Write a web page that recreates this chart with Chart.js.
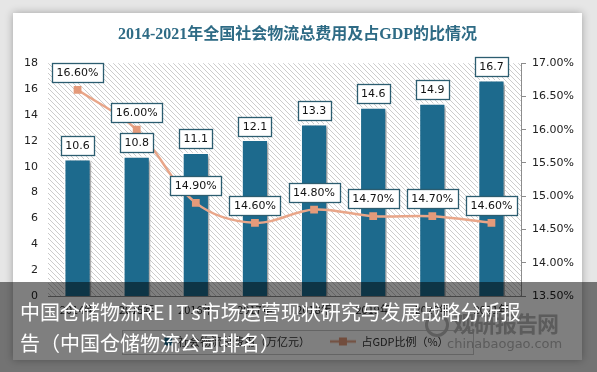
<!DOCTYPE html>
<html>
<head>
<meta charset="utf-8">
<script src="https://cdn.jsdelivr.net/npm/chart.js@4/dist/chart.umd.min.js"></script>
<style>
html,body{margin:0;padding:0;}
body{width:597px;height:372px;background:#e6e6e6;position:relative;overflow:hidden;font-family:"Noto Sans CJK SC",sans-serif;}
#card{position:absolute;left:13px;top:13px;width:569px;height:347px;background:#fff;box-shadow:0 0 8px rgba(0,0,0,.3);}
#wrap{position:absolute;left:0;top:0;width:597px;height:372px;}
#wm1{position:absolute;left:453px;top:306px;font-size:22px;font-weight:bold;color:#b8b8b8;letter-spacing:-1px;}
#wm2{position:absolute;left:447px;top:336px;font:13px "DejaVu Sans";color:#b8b8b8;}
#logo{position:absolute;left:425px;top:313px;width:18px;height:18px;border:3px solid #bcbcbc;border-radius:50%;}
#overlay{position:absolute;left:0;top:282px;width:597px;height:90px;background:rgba(0,0,0,.5);}
#overlay div{position:absolute;left:20px;color:#fff;font-size:20px;line-height:22px;white-space:nowrap;}
</style>
</head>
<body>
<div id="card"></div>
<div id="wrap"><canvas id="chart" width="597" height="372"></canvas></div>
<div id="logo"></div>
<div id="wm1">观研报告网</div>
<div id="wm2">chinabaogao.com</div>
<div id="overlay">
  <div style="top:19px">中国仓储物流R<span style="letter-spacing:3px">EIT</span>s市场运营现状研究与发展战略分析报</div>
  <div style="top:50px">告（中国仓储物流公司排名）</div>
</div>
<script>
const years = ['2014年', '2015年', '2016年', '2017年', '2018年', '2019年', '2020年', '2021年'];
const costs = [10.6, 10.8, 11.1, 12.1, 13.3, 14.6, 14.9, 16.7];
const gdpShare = [16.6, 16.0, 14.9, 14.6, 14.8, 14.7, 14.7, 14.6];
const costTicks = [0, 2, 4, 6, 8, 10, 12, 14, 16, 18];
const shareTicks = [13.5, 14.0, 14.5, 15.0, 15.5, 16.0, 16.5, 17.0];

const BAR = '#1d6a8d';
const LINE = '#e9a689';
const MARK = '#e49a7a';
const BOXLINE = '#2c5d70';

// diagonal hatch for plot background
function makeHatch() {
  const c = document.createElement('canvas');
  c.width = 5; c.height = 5;
  const g = c.getContext('2d');
  g.strokeStyle = '#cccccc';
  g.lineWidth = 1;
  g.beginPath();
  g.moveTo(0, 0); g.lineTo(5, 5);
  g.moveTo(-1, 4); g.lineTo(1, 6);
  g.moveTo(4, -1); g.lineTo(6, 1);
  g.stroke();
  return c;
}

function barIcon() {
  const c = document.createElement('canvas');
  c.width = 26; c.height = 10;
  const g = c.getContext('2d');
  g.fillStyle = BAR;
  g.fillRect(18, 1, 8, 8);
  return c;
}

function lineIcon() {
  const c = document.createElement('canvas');
  c.width = 26; c.height = 10;
  const g = c.getContext('2d');
  g.strokeStyle = LINE;
  g.lineWidth = 2.5;
  g.beginPath(); g.moveTo(0, 5); g.lineTo(26, 5); g.stroke();
  g.fillStyle = MARK;
  g.fillRect(9, 1, 8, 8);
  return c;
}

function drawBox(ctx, text, cx, bottom) {
  ctx.font = '11px "DejaVu Sans"';
  const w = Math.round(ctx.measureText(text).width + 9);
  const h = 19;
  const x = Math.round(cx - w / 2) + 0.5;
  const y = Math.round(bottom - h) + 0.5;
  ctx.fillStyle = '#fff';
  ctx.fillRect(x, y, w, h);
  ctx.strokeStyle = BOXLINE;
  ctx.lineWidth = 1.3;
  ctx.strokeRect(x, y, w, h);
  ctx.fillStyle = '#111';
  ctx.textAlign = 'center';
  ctx.textBaseline = 'middle';
  ctx.fillText(text, cx, y + h / 2 + 0.5);
}

const hatch = makeHatch();

const decor = {
  id: 'decor',
  beforeDraw(chart) {
    const {ctx, chartArea: a} = chart;
    ctx.save();
    ctx.fillStyle = ctx.createPattern(hatch, 'repeat');
    ctx.fillRect(a.left, a.top, a.right - a.left, a.bottom - a.top);
    ctx.restore();
  },
  beforeDatasetDraw(chart, args) {
    if (args.index !== 0) return;
    const ctx = chart.ctx;
    ctx.save();
    ctx.shadowColor = 'rgba(0,0,0,0.35)';
    ctx.shadowOffsetX = 3;
    ctx.shadowOffsetY = 2;
    ctx.shadowBlur = 3;
  },
  afterDatasetDraw(chart, args) {
    if (args.index === 0) chart.ctx.restore();
  },
  afterDatasetsDraw(chart) {
    const ctx = chart.ctx;
    ctx.save();
    chart.getDatasetMeta(0).data.forEach((b, i) => {
      drawBox(ctx, costs[i].toFixed(1), b.x, b.y - 4);
    });
    chart.getDatasetMeta(1).data.forEach((p, i) => {
      drawBox(ctx, gdpShare[i].toFixed(2) + '%', p.x, p.y - 8);
    });
    ctx.restore();
  },
  afterDraw(chart) {
    const boxes = chart.legend.legendHitBoxes;
    if (!boxes || !boxes.length) return;
    const first = boxes[0], last = boxes[boxes.length - 1];
    const cy = first.top + first.height / 2;
    const ctx = chart.ctx;
    ctx.save();
    ctx.strokeStyle = '#c8c8c8';
    ctx.lineWidth = 1;
    const l = Math.round(first.left - 24) + 0.5;
    const r = Math.round(last.left + last.width + 24) + 0.5;
    ctx.strokeRect(l, Math.round(cy - 12) + 0.5, r - l, 24);
    ctx.restore();
  }
};

new Chart(document.getElementById('chart'), {
  data: {
    labels: years,
    datasets: [
      {
        type: 'bar',
        label: '社会物流总费用（万亿元）',
        data: costs,
        yAxisID: 'y',
        backgroundColor: BAR,
        borderColor: '#ffffff',
        borderWidth: 1.5,
        barPercentage: 0.46,
        categoryPercentage: 1,
        order: 2
      },
      {
        type: 'line',
        label: '占GDP比例（%）',
        data: gdpShare,
        yAxisID: 'y1',
        borderColor: LINE,
        borderWidth: 2.5,
        tension: 0.35,
        pointStyle: 'rect',
        pointRadius: 5.5,
        pointBackgroundColor: MARK,
        pointBorderColor: MARK,
        pointBorderWidth: 0,
        order: 1
      }
    ]
  },
  options: {
    responsive: false,
    animation: false,
    layout: {padding: {left: 13, right: 15, top: 0, bottom: 15}},
    plugins: {
      tooltip: {enabled: false},
      title: {
        display: true,
        text: '2014-2021年全国社会物流总费用及占GDP的比情况',
        color: '#2e6b85',
        font: {family: '"Liberation Serif", "Noto Sans CJK SC"', size: 16, weight: 'bold'},
        padding: {top: 25, bottom: 19}
      },
      legend: {
        position: 'bottom',
        labels: {
          usePointStyle: true,
          pointStyleWidth: 26,
          padding: 20,
          color: '#333',
          font: {family: '"Noto Sans CJK SC"', size: 11},
          generateLabels: () => [
            {text: '社会物流总费用（万亿元）', pointStyle: barIcon(), datasetIndex: 0, fontColor: '#333', lineWidth: 0, strokeStyle: 'rgba(0,0,0,0)', fillStyle: BAR},
            {text: '占GDP比例（%）', pointStyle: lineIcon(), datasetIndex: 1, fontColor: '#333', lineWidth: 0, strokeStyle: 'rgba(0,0,0,0)', fillStyle: LINE}
          ]
        }
      }
    },
    scales: {
      x: {
        grid: {display: true, drawOnChartArea: false, drawTicks: false},
        border: {display: true, color: '#8c8c8c', width: 1},
        ticks: {padding: 7, color: '#222', font: {family: '"Noto Sans CJK SC"', size: 11}},
        afterFit: s => { s.height = 20; }
      },
      y: {
        position: 'left',
        min: costTicks[0],
        max: costTicks[costTicks.length - 1],
        afterBuildTicks: s => { s.ticks = costTicks.map(v => ({value: v})); },
        grid: {display: false, drawTicks: false},
        border: {display: false},
        ticks: {padding: 10, color: '#222', font: {family: '"DejaVu Sans"', size: 11}},
        afterFit: s => { s.width = 35; }
      },
      y1: {
        position: 'right',
        min: shareTicks[0],
        max: shareTicks[shareTicks.length - 1],
        afterBuildTicks: s => { s.ticks = shareTicks.map(v => ({value: v})); },
        grid: {display: true, drawOnChartArea: false, drawTicks: true, tickLength: 5, color: '#8c8c8c'},
        border: {display: true, color: '#8c8c8c', width: 1},
        ticks: {padding: 6, color: '#222', font: {family: '"DejaVu Sans"', size: 11},
          callback: v => v.toFixed(2) + '%'},
        afterFit: s => { s.width = 61; }
      }
    }
  },
  plugins: [decor]
});
</script>
</body>
</html>
